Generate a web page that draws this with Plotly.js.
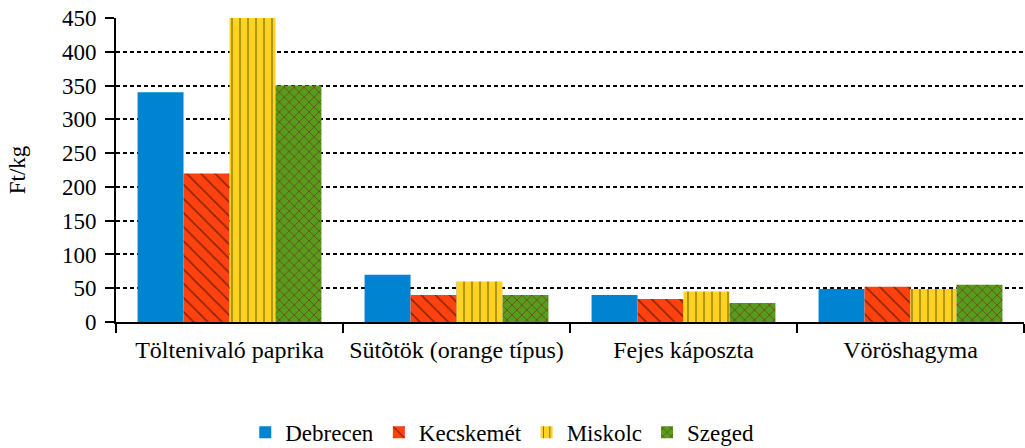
<!DOCTYPE html>
<html><head><meta charset="utf-8">
<script src="https://cdn.plot.ly/plotly-3.0.1.min.js"></script>
<style>html,body{margin:0;padding:0;background:#fff}#chart{width:1025px;height:448px}</style>
</head><body><div id="chart"></div>
<script>
const categories = ["Töltenivaló paprika", "Sütõtök (orange típus)", "Fejes káposzta", "Vöröshagyma"];
const debrecen  = [340, 70, 40, 49];
const kecskemet = [220, 40, 34, 52];
const miskolc   = [450, 60, 45, 49];
const szeged    = [350, 40, 28, 55];
const seriesNames = ["Debrecen", "Kecskemét", "Miskolc", "Szeged"];
const yTicks = [0, 50, 100, 150, 200, 250, 300, 350, 400, 450];

const FONT = "Liberation Serif";
const traces = [
  {name: seriesNames[0], x: categories, y: debrecen, type: "bar",
   marker: {color: "#0084d1"}},
  {name: seriesNames[1], x: categories, y: kecskemet, type: "bar",
   marker: {color: "#ff420e", pattern: {shape: "\\", fgcolor: "#000", bgcolor: "#ff420e", size: 10, solidity: 0.15, fillmode: "overlay"}}},
  {name: seriesNames[2], x: categories, y: miskolc, type: "bar",
   marker: {color: "#ffd320", pattern: {shape: "|", fgcolor: "#000", bgcolor: "#ffd320", size: 8, solidity: 0.15, fillmode: "overlay"}}},
  {name: seriesNames[3], x: categories, y: szeged, type: "bar",
   marker: {color: "#579d1c", pattern: {shape: "x", fgcolor: "#7e0021", bgcolor: "#579d1c", size: 7, solidity: 0.25, fillmode: "overlay"}}}
];
traces.forEach(t => { t.marker.line = {width: 0}; t.hoverinfo = "none"; });

const layout = {
  width: 1025, height: 448,
  margin: {l: 116, r: 1, t: 18, b: 126},
  paper_bgcolor: "#fff", plot_bgcolor: "#fff",
  font: {family: FONT, size: 23, color: "#000"},
  barmode: "group", bargap: 0.19, bargroupgap: 0,
  xaxis: {
    type: "category", tickson: "boundaries", ticks: "outside", ticklen: 9, tickwidth: 2, tickcolor: "#000",
    showline: true, linecolor: "#000", linewidth: 2, showgrid: false, ticklabelstandoff: 5,
    tickfont: {family: FONT, size: 24, color: "#000"}
  },
  yaxis: {
    range: [0, 450], tickvals: yTicks, ticktext: yTicks.map(String),
    ticks: "outside", ticklen: 9, tickwidth: 2, tickcolor: "#000",
    showline: true, linecolor: "#000", linewidth: 2, ticklabelstandoff: 4,
    showgrid: true, gridcolor: "#000", gridwidth: 2, griddash: "4px,3px",
    zeroline: false,
    title: {text: "Ft/kg", font: {family: FONT, size: 23, color: "#000"}, standoff: 30},
    tickfont: {family: FONT, size: 23, color: "#000"}
  },
  legend: {
    orientation: "h", xref: "container", yref: "container", x: 0.49, xanchor: "center",
    y: 0.035, yanchor: "middle", font: {family: FONT, size: 23, color: "#000"},
    traceorder: "normal"
  },
  showlegend: true
};
Plotly.newPlot("chart", traces, layout, {staticPlot: true});
</script></body></html>
